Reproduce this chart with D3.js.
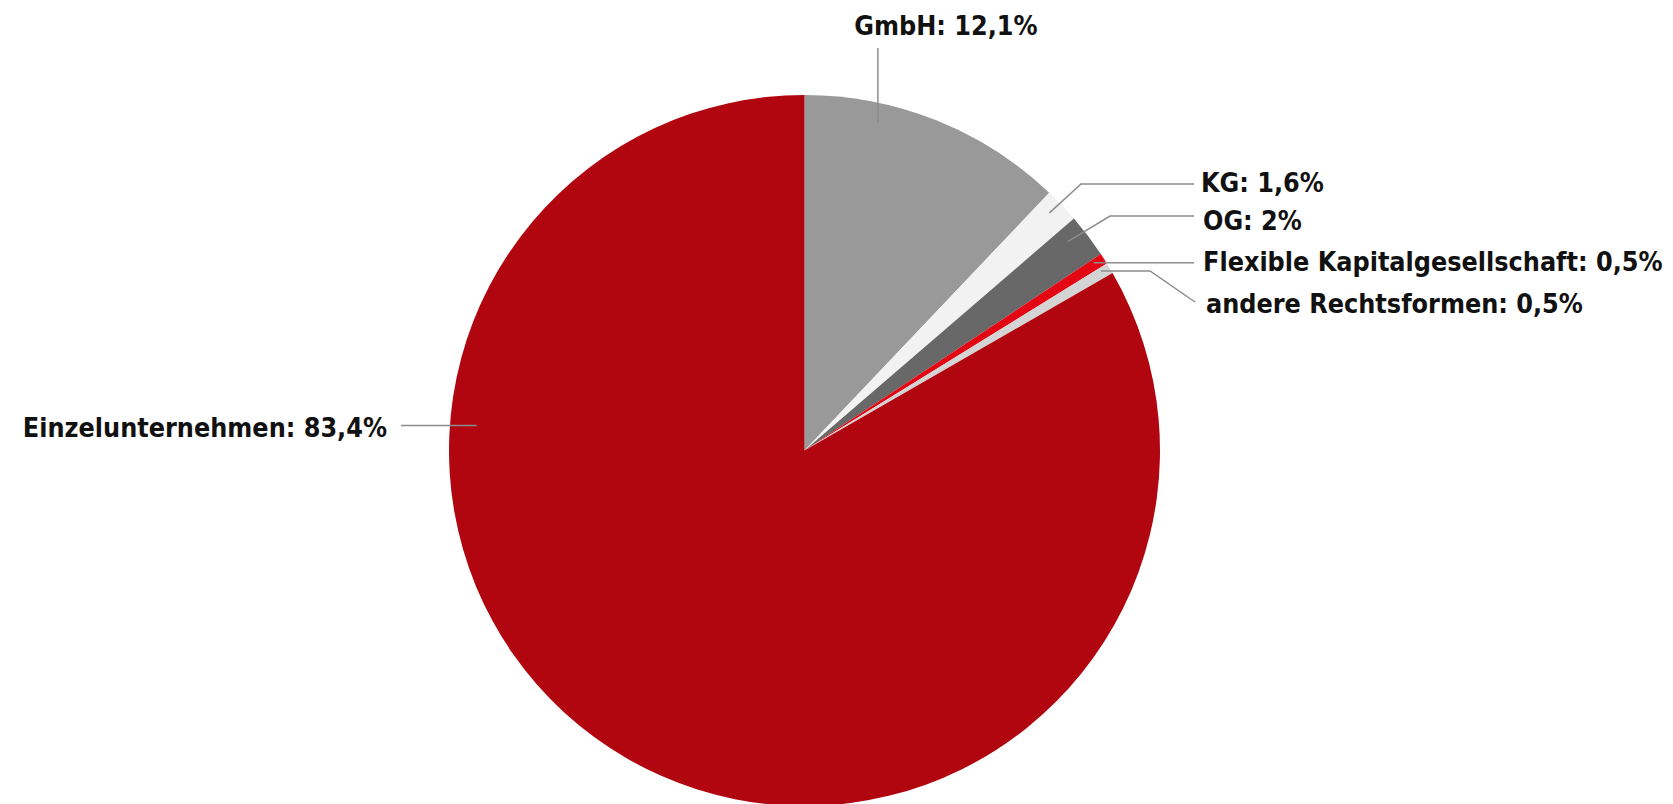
<!DOCTYPE html>
<html><head><meta charset="utf-8">
<script src="https://cdn.jsdelivr.net/npm/d3@7"></script>
<style>html,body{margin:0;padding:0;background:#fff;}svg{display:block;}</style>
</head><body>
<svg id="chart" width="1673" height="804"></svg>
<script>
const categories = ["GmbH", "KG", "OG", "Flexible Kapitalgesellschaft", "andere Rechtsformen", "Einzelunternehmen"];
const values = [12.1, 1.6, 2, 0.5, 0.5, 83.4];
const valueLabels = ["12,1%", "1,6%", "2%", "0,5%", "0,5%", "83,4%"];
const colors = ["#999999", "#F2F2F2", "#686868", "#E30613", "#D4D4D4", "#B1060F"];

// label layout (positions only)
const cx = 804.5, cy = 450.5, R = 355.5;
const leaderFrac = [0.29, 0.41, 0.32, 0.3, 0.3, 0.7145];
const leaderRad = [0.945, 0.96, 0.945, 0.97, 0.975, 0.925];
// kind: "v" vertical to y, "h" horizontal to x, "p" polyline through elbow points
const labelPos = [
  {x: 946, y: 35, anchor: "middle", kind: "v", to: 48},
  {x: 1201, y: 192, anchor: "start", kind: "p", elbow: [[1081, 184], [1194, 184]]},
  {x: 1203, y: 230, anchor: "start", kind: "p", elbow: [[1110, 216], [1194, 216]]},
  {x: 1203, y: 271, anchor: "start", kind: "h", to: 1194},
  {x: 1206, y: 313, anchor: "start", kind: "p", elbow: [[1150, 268], [1195, 302]]},
  {x: 387, y: 437, anchor: "end", kind: "h", to: 401}
];

const svg = d3.select("#chart");
const g = svg.append("g").attr("transform", `translate(${cx},${cy})`);
const data = categories.map((c, i) => ({cat: c, value: values[i], i}));
const pie = d3.pie().value(d => d.value).sort(null);
const arcs = pie(data);
const arc = d3.arc().innerRadius(0).outerRadius(R);

g.selectAll("path.slice").data(arcs).enter().append("path")
  .attr("class", "slice")
  .attr("d", arc)
  .attr("fill", (d) => colors[d.data.i]);

// leader lines
const line = d3.line();
arcs.forEach(a => {
  const i = a.data.i;
  const L = labelPos[i];
  const ang = a.startAngle + leaderFrac[i] * (a.endAngle - a.startAngle);
  const r = leaderRad[i] * R;
  const p0 = [cx + r * Math.sin(ang), cy - r * Math.cos(ang)];
  let pts;
  if (L.kind === "v") pts = [p0, [p0[0], L.to]];
  else if (L.kind === "h") pts = [p0, [L.to, p0[1]]];
  else if (i === 4) pts = [p0, [L.elbow[0][0], p0[1]], L.elbow[1]];
  else pts = [p0].concat(L.elbow);
  svg.append("path")
    .attr("d", line(pts))
    .attr("fill", "none")
    .attr("stroke", "#8C8C8C")
    .attr("stroke-width", 1.5);
});

svg.selectAll("text.lbl").data(arcs).enter().append("text")
  .attr("class", "lbl")
  .attr("x", d => labelPos[d.data.i].x)
  .attr("y", d => labelPos[d.data.i].y)
  .attr("text-anchor", d => labelPos[d.data.i].anchor)
  .attr("font-family", "'DejaVu Sans Condensed', 'DejaVu Sans', sans-serif")
  .attr("font-weight", "bold")
  .attr("font-size", "26.7px")
  .attr("fill", "#111")
  .text(d => d.data.cat + ": " + valueLabels[d.data.i]);
</script>
</body></html>
